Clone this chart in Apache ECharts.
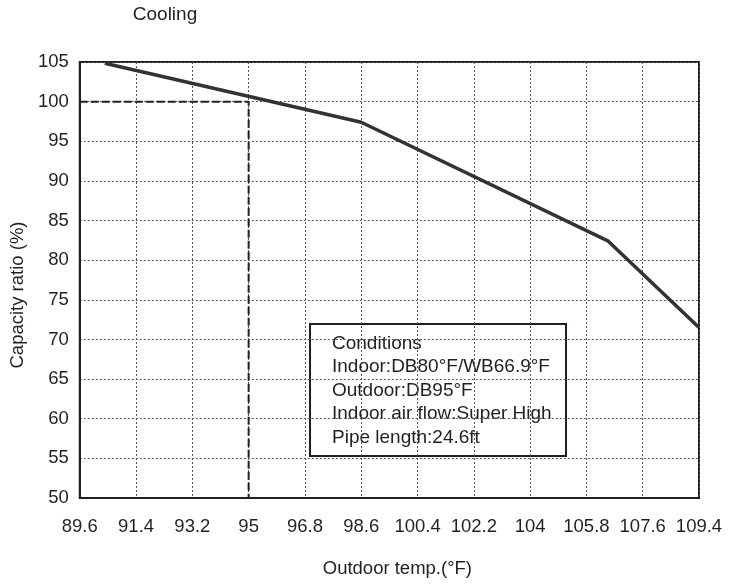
<!DOCTYPE html>
<html>
<head>
<meta charset="utf-8">
<script src="https://cdn.jsdelivr.net/npm/echarts@6/dist/echarts.min.js"></script>
<style>html,body{margin:0;padding:0;background:#fff}#c{width:732px;height:584px}</style>
</head>
<body>
<div id="c"></div>
<script>
// ---- data ----
var titleText = 'Cooling';
var xName = 'Outdoor temp.(\u00b0F)';
var yName = 'Capacity ratio (%)';
var xMin = 89.6, xMax = 109.4, xStep = 1.8;
var yMin = 50, yMax = 105, yStep = 5;
var capTemps = [90.4, 98.6, 106.5, 109.4];
var capRatios = [104.85, 97.4, 82.4, 71.5];
var refTemps = [89.6, 95, 95];
var refRatios = [100, 100, 50];
var conditionLines = [
  'Conditions',
  'Indoor:DB80\u00b0F/WB66.9\u00b0F',
  'Outdoor:DB95\u00b0F',
  'Indoor air flow:Super High',
  'Pipe length:24.6ft'
];

var ink = '#231f20';
var font = '"Liberation Sans", Arial, Helvetica, sans-serif';

function pairs(xs, ys) { return xs.map(function (x, i) { return [x, ys[i]]; }); }

var boxText = conditionLines.map(function (t, i) {
  return {
    type: 'text', x: 22, y: 19.5 + i * 23.5,
    style: { text: t, fill: ink, font: '19px ' + font, verticalAlign: 'middle', align: 'left' }
  };
});

var chart = echarts.init(document.getElementById('c'), null, { renderer: 'canvas' });
chart.setOption({
  backgroundColor: '#fff',
  animation: false,
  grid: { left: 79, right: 33, top: 62, bottom: 86, show: true, borderColor: ink, borderWidth: 2, backgroundColor: 'transparent' },
  xAxis: {
    type: 'value', min: xMin, max: xMax, interval: xStep,
    name: xName, nameLocation: 'middle', nameGap: 61,
    nameTextStyle: { fontFamily: font, fontSize: 18.5, color: ink, padding: [0, 0, 0, 16] },
    axisLine: { show: true, onZero: false, lineStyle: { color: ink, width: 2 } },
    axisTick: { show: false },
    axisLabel: { fontFamily: font, fontSize: 18.5, color: ink, margin: 19, showMinLabel: true, showMaxLabel: true },
    splitLine: { show: true, lineStyle: { color: '#555', width: 1, type: [2, 2] } }
  },
  yAxis: {
    type: 'value', min: yMin, max: yMax, interval: yStep,
    name: yName, nameLocation: 'middle', nameGap: 52, nameRotate: 90,
    nameTextStyle: { fontFamily: font, fontSize: 18.5, color: ink, padding: [0, 30, 0, 0] },
    axisLine: { show: true, onZero: false, lineStyle: { color: ink, width: 2 } },
    axisTick: { show: false },
    axisLabel: { fontFamily: font, fontSize: 18.5, color: ink, margin: 11 },
    splitLine: { show: true, lineStyle: { color: '#555', width: 1, type: [2, 2] } }
  },
  series: [
    {
      type: 'line', data: pairs(refTemps, refRatios), symbol: 'none', silent: true,
      lineStyle: { color: ink, width: 2, type: [8, 3] }, z: 2
    },
    {
      type: 'line', data: pairs(capTemps, capRatios), symbol: 'none', silent: true,
      lineStyle: { color: '#333', width: 3.5 }, z: 3
    }
  ],
  graphic: [
    {
      type: 'text', x: 165, y: 15,
      style: { text: titleText, fill: ink, font: '19px ' + font, align: 'center', verticalAlign: 'middle' }
    },
    {
      type: 'group', x: 310, y: 324, z: 10,
      children: [
        { type: 'rect', shape: { x: 0, y: 0, width: 256, height: 132 }, style: { fill: '#fff', stroke: ink, lineWidth: 2 } }
      ].concat(boxText)
    }
  ]
});
</script>
</body>
</html>
